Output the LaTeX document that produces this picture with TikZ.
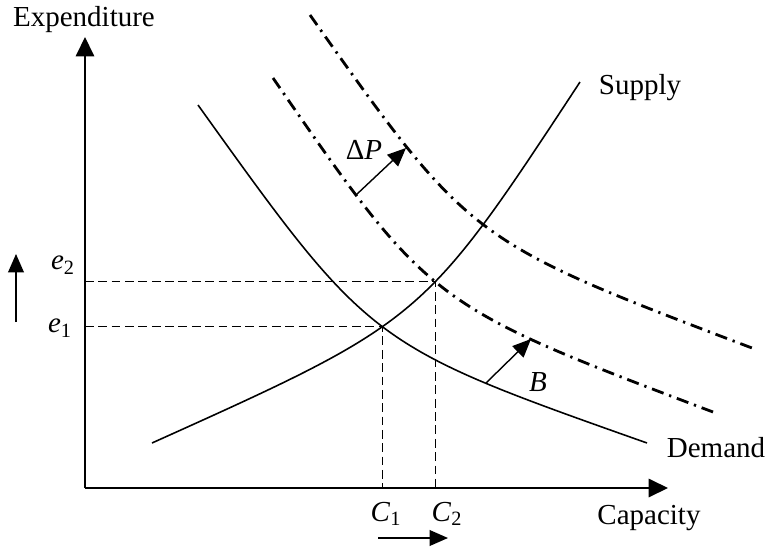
\documentclass[tikz,border=0pt]{standalone}
\usepackage{fontspec}
\setmainfont{Liberation Serif}
\usetikzlibrary{arrows.meta,intersections}
\begin{document}
\begin{tikzpicture}[x=0.02cm,y=-0.02cm,
  lbl/.style={font=\fontsize{16.5}{20}\selectfont, inner sep=0pt},
  axis/.style={line width=0.8pt, -{Triangle[length=11pt,width=10.5pt]}},
  curve/.style={line width=0.9pt},
  guide/.style={line width=0.55pt, dash pattern=on 5pt off 2.6pt},
  shifted/.style={line width=1.6pt, dash pattern=on 7pt off 3.4pt on 1.3pt off 3.4pt},
  shiftarrow/.style={line width=0.8pt, -{Triangle[length=10.5pt,width=9pt]}}]
\useasboundingbox (0,0) rectangle (765,548);
% axes
\coordinate (O) at (85,488);
\coordinate (ytop) at (85,37);
\coordinate (xend) at (668,488);
\draw[axis] (O) -- (ytop);
\draw[axis] (O) -- (xend);
\node[lbl] (expend) at (84,20) {Expenditure};
\node[lbl] (capac) at (649,518) {Capacity};
% curves
\draw[curve, name path=demand] (198,105) .. controls (370,345) and (370,345) .. (647,443);
\draw[curve, name path=supply] (152,443) .. controls (423,321) and (423,321) .. (580,82);
\draw[shifted, name path=inner] (273,78) .. controls (430,305) and (430,305) .. (713,412);
\draw[shifted] (310,15) .. controls (470,241) and (470,241) .. (752,348);
% intersections and guide lines
\path[name intersections={of=demand and supply, by=E1}];
\path[name intersections={of=inner and supply, by=E2}];
\draw[guide] (E1 -| O) -- (E1) -- (E1 |- O);
\draw[guide] (E2 -| O) -- (E2) -- (E2 |- O);
% labels
\node[lbl] (supply) at (640,88) {Supply};
\node[lbl] (demand) at (716,448) {Demand};
\node[lbl] (dp) at (364,150) {Δ\textit{P}};
\node[lbl] (b) at (538,382) {\textit{B}};
\node[lbl] (e2) at (63,265) {\textit{e}\textsubscript{2}};
\node[lbl] (e1) at (60,328) {\textit{e}\textsubscript{1}};
\node[lbl] (c1) at (386,514) {\textit{C}\textsubscript{1}};
\node[lbl] (c2) at (447,514) {\textit{C}\textsubscript{2}};
% shift arrows
\coordinate (dpa) at (356,195);
\coordinate (dpb) at (406,148);
\draw[shiftarrow] (dpa) -- (dpb);
\coordinate (ba) at (486,383);
\coordinate (bb) at (531,339);
\draw[shiftarrow] (ba) -- (bb);
\coordinate (ca) at (378,538);
\coordinate (cb) at (448,538);
\draw[shiftarrow] (ca) -- (cb);
\coordinate (ea) at (16,322);
\coordinate (eb) at (16,254);
\draw[shiftarrow] (ea) -- (eb);
\end{tikzpicture}
\end{document}
